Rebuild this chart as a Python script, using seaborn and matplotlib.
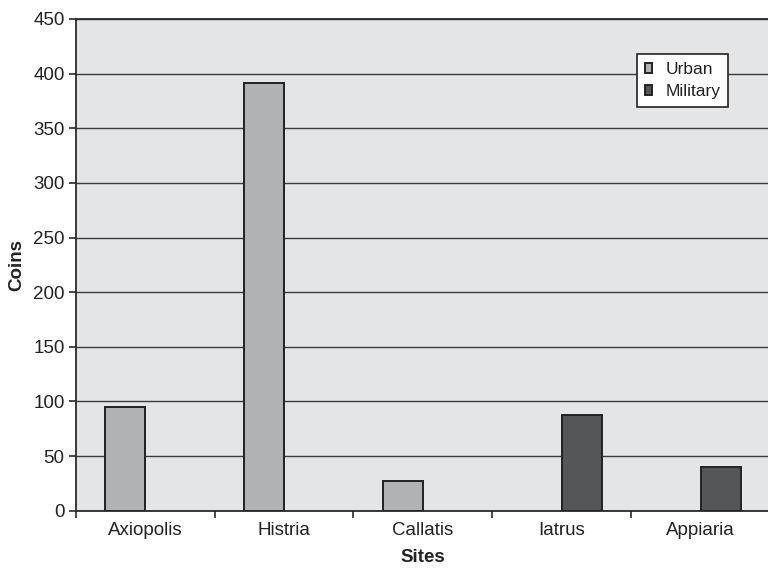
import matplotlib
matplotlib.use("Agg")
import matplotlib.pyplot as plt
from matplotlib.ticker import FixedLocator, MultipleLocator
import seaborn as sns
import pandas as pd

# Coin finds per site, by settlement type
sites = ["Axiopolis", "Histria", "Callatis", "Iatrus", "Appiaria"]
site_types = ["Urban", "Urban", "Urban", "Military", "Military"]
coins = [95, 391, 27, 88, 40]
type_order = ["Urban", "Military"]
y_ticks = [0, 50, 100, 150, 200, 250, 300, 350, 400, 450]

df = pd.DataFrame({"Site": sites, "Type": site_types, "Coins": coins})

sns.set_theme(style="white")
plt.rcParams["font.family"] = ["Liberation Sans", "DejaVu Sans"]

fig = plt.figure(figsize=(7.68, 5.68), dpi=100)
ax = fig.add_axes([0.0986, 0.1009, 0.904, 0.8657])
ax.set_facecolor("#e4e5e7")

palette = {"Urban": "#b1b2b4", "Military": "#555658"}
sns.barplot(data=df, x="Site", y="Coins", hue="Type", order=sites,
            hue_order=type_order, palette=palette, dodge=True, width=0.576,
            edgecolor="#222222", linewidth=1.4, saturation=1, ax=ax, zorder=3)

ax.set_ylim(0, 450)
ax.set_xlim(-0.5, len(sites) - 0.5)
ax.yaxis.set_major_locator(FixedLocator(y_ticks))
ax.grid(axis="y", color="#3a3a3a", linewidth=1.0, zorder=1)
ax.set_axisbelow(True)

for side in ["left", "bottom", "top", "right"]:
    ax.spines[side].set_color("#2a2a2a")
    ax.spines[side].set_linewidth(1.3)

ax.xaxis.set_minor_locator(MultipleLocator(1, offset=0.5))
ax.tick_params(axis="x", which="major", length=0, pad=8, labelsize=13.5, colors="#222222")
ax.tick_params(axis="x", which="minor", length=5, width=1.2, color="#2a2a2a", direction="out")
ax.tick_params(axis="y", which="major", length=5, width=1.2, color="#2a2a2a", direction="out",
               labelsize=13.5, labelcolor="#222222", pad=3)
ax.tick_params(bottom=True, left=True, which="both")

ax.set_xlabel("Sites", fontsize=13.5, fontweight="bold", color="#222222", labelpad=7)
ax.set_ylabel("Coins", fontsize=13.5, fontweight="bold", color="#222222", labelpad=6)

leg = ax.legend(loc="upper left", bbox_to_anchor=(0.808, 0.928), fontsize=12.5,
                frameon=True, fancybox=False, framealpha=1, edgecolor="#222222",
                handlelength=0.45, handleheight=0.45, handletextpad=0.75,
                borderpad=0.45, labelspacing=0.4, borderaxespad=0)
leg.get_frame().set_linewidth(1.2)
leg.set_zorder(5)
for t in leg.get_texts():
    t.set_color("#222222")

fig.savefig("out.png", dpi=100)
